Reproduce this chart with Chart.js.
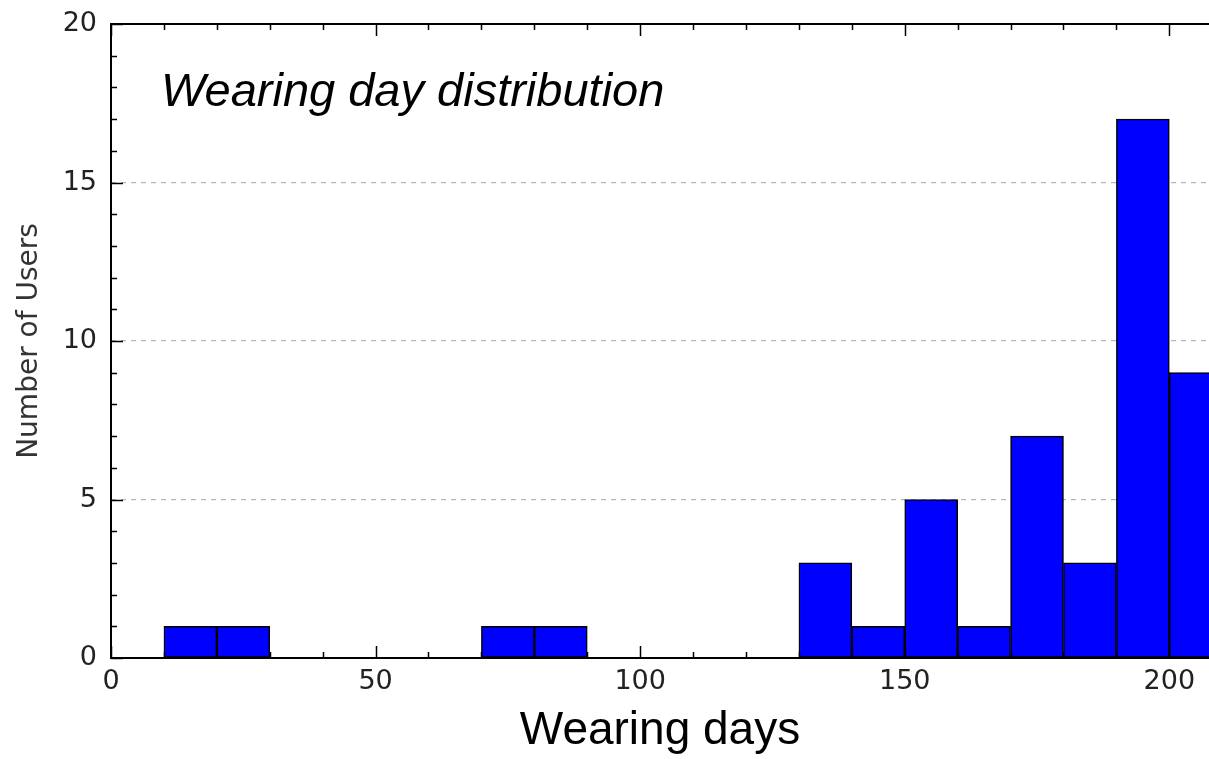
<!DOCTYPE html>
<html>
  <head>
    <title>Wearing day distribution</title>
    <script src="https://cdn.jsdelivr.net/npm/chart.js@4.4.0/dist/chart.umd.min.js"></script>
    <style>
      body { margin: 0; background: #fff; }
      #wrap { width: 1209px; height: 759px; }
    </style>
  </head>

  <body>
    <div id="wrap"><canvas id="hist" width="1209" height="759"></canvas></div>
  </body>

  <script>
    // histogram bins (start of each 10-day bin) and user counts
    var binStarts = [10, 20, 70, 80, 130, 140, 150, 160, 170, 180, 190, 200];
    var userCounts = [1, 1, 1, 1, 3, 1, 5, 1, 7, 3, 17, 9];
    var binWidth = 10;

    var xTickValues = [0, 50, 100, 150, 200];
    var yTickValues = [0, 5, 10, 15, 20];

    var chartTitle = "Wearing day distribution";
    var xTitle = "Wearing days";
    var yTitle = "Number of Users";

    var points = [];
    for (var i = 0; i < binStarts.length; i++) {
      points.push({x: binStarts[i] + binWidth / 2, y: userCounts[i]});
    }

    // spines, inward ticks (matplotlib look) and the italic title inside the axes
    var framePlugin = {
      id: "frame",
      afterDraw: function(chart) {
        var ctx = chart.ctx;
        var a = chart.chartArea;
        var xs = chart.scales.x, ys = chart.scales.y;
        ctx.save();
        ctx.strokeStyle = "#000";
        ctx.lineWidth = 1.5;
        var v, px, len;
        for (v = 0; v <= 200; v += 10) {
          px = Math.round(xs.getPixelForValue(v)) + 0.5;
          len = (v % 50 === 0) ? 12 : 6;
          ctx.beginPath();
          ctx.moveTo(px, a.bottom); ctx.lineTo(px, a.bottom - len);
          ctx.moveTo(px, a.top); ctx.lineTo(px, a.top + len);
          ctx.stroke();
        }
        for (v = 0; v <= 20; v += 1) {
          px = Math.round(ys.getPixelForValue(v)) + 0.5;
          len = (v % 5 === 0) ? 12 : 6;
          ctx.beginPath();
          ctx.moveTo(a.left, px); ctx.lineTo(a.left + len, px);
          ctx.stroke();
        }
        ctx.lineWidth = 2;
        ctx.beginPath();
        ctx.moveTo(a.right, a.top);
        ctx.lineTo(a.left, a.top);
        ctx.lineTo(a.left, a.bottom);
        ctx.lineTo(a.right, a.bottom);
        ctx.stroke();

        ctx.fillStyle = "#000";
        ctx.font = "italic 47px 'Liberation Sans', Arial, sans-serif";
        ctx.textBaseline = "alphabetic";
        ctx.textAlign = "left";
        ctx.fillText(chartTitle, a.left + 50, a.top + 82);
        ctx.restore();
      }
    };

    new Chart(document.getElementById("hist"), {
      type: "bar",
      data: {
        datasets: [{
          data: points,
          backgroundColor: "#0000ff",
          borderColor: "#000",
          borderWidth: 1.5,
          borderSkipped: false,
          barPercentage: 1.0,
          categoryPercentage: 1.0
        }]
      },
      options: {
        responsive: false,
        animation: false,
        layout: { padding: { top: 24, right: 0, left: 0, bottom: 0 } },
        plugins: {
          legend: { display: false },
          tooltip: { enabled: false }
        },
        scales: {
          x: {
            type: "linear",
            min: 0,
            max: 207.5,
            offset: false,
            afterFit: function(scale) {
              scale.height = 101;
              scale.paddingLeft = 0;
              scale.paddingRight = 0;
            },
            afterBuildTicks: function(scale) {
              scale.ticks = xTickValues.map(function(t) { return {value: t}; });
            },
            grid: { display: false, drawTicks: false, offset: false },
            border: { display: false },
            ticks: {
              includeBounds: false,
              padding: 8,
              maxRotation: 0,
              color: "#222",
              font: { family: "'DejaVu Sans'", size: 27 }
            },
            title: {
              display: true,
              text: xTitle,
              color: "#000",
              font: { family: "'Liberation Sans', Arial", size: 46 },
              padding: { top: 0, bottom: 0 }
            }
          },
          y: {
            min: 0,
            max: 20,
            afterFit: function(scale) {
              scale.width = 111;
              scale.paddingTop = 0;
              scale.paddingBottom = 0;
            },
            afterBuildTicks: function(scale) {
              scale.ticks = yTickValues.map(function(t) { return {value: t}; });
            },
            grid: {
              drawTicks: false,
              lineWidth: 1.2,
              color: function(c) {
                if (c.tick && (c.tick.value === 0 || c.tick.value === 20)) return "rgba(0,0,0,0)";
                return "#b4b4b4";
              }
            },
            border: { display: false, dash: [5, 5] },
            ticks: {
              padding: 14,
              color: "#222",
              font: { family: "'DejaVu Sans'", size: 27 }
            },
            title: {
              display: true,
              text: yTitle,
              color: "#333",
              font: { family: "'DejaVu Sans'", size: 28 },
              padding: { top: 13, bottom: 0 }
            }
          }
        }
      },
      plugins: [framePlugin]
    });
  </script>
</html>
